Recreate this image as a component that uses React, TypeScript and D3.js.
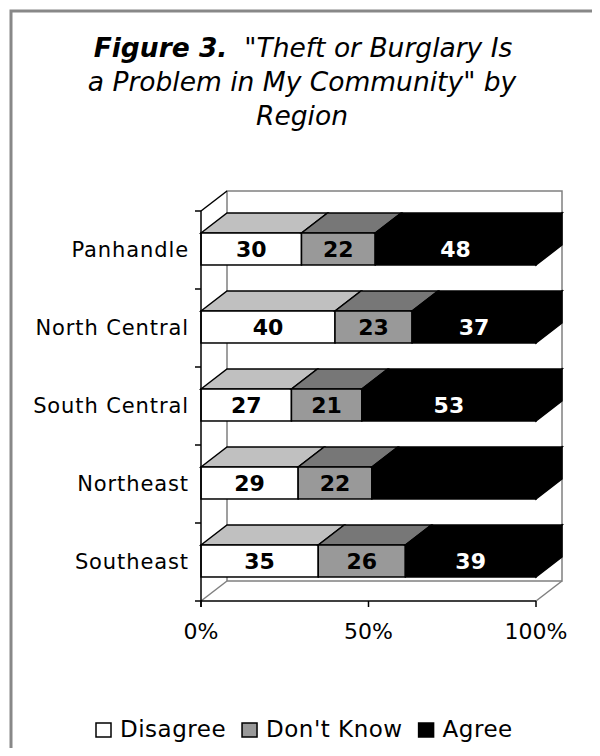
import * as d3 from "d3";
import React, { useEffect, useRef } from "react";

const categories = ["Panhandle", "North Central", "South Central", "Northeast", "Southeast"];
const seriesNames = ["Disagree", "Don't Know", "Agree"];
const disagree = [30, 40, 27, 29, 35];
const dontKnow = [22, 23, 21, 22, 26];
const agree = [48, 37, 53, 49, 39];
// the Northeast "Agree" label is not printed in the original
const showAgreeLabel = [true, true, true, false, true];
const xTicks = [0, 50, 100];

const frontColors = ["#ffffff", "#999999", "#000000"];
const topColors = ["#c0c0c0", "#777777", "#000000"];
const labelColors = ["#000000", "#000000", "#ffffff"];

const W = 600;
const H = 756;
const FONT = "'DejaVu Sans', Verdana, sans-serif";

const App: React.FC = () => {
  const ref = useRef<SVGSVGElement>(null);

  useEffect(() => {
    if (!ref.current) return;
    const svg = d3.select(ref.current);
    svg.selectAll("*").remove();

    const dx = 26;
    const dy = 20;
    const x = d3.scaleLinear().domain([0, 100]).range([201, 536]);
    const y = d3
      .scaleBand<string>()
      .domain(categories)
      .range([210, 600])
      .paddingInner(0.59)
      .paddingOuter(0.295);
    const x0 = x(0);
    const x1 = x(100);
    const yTop = 211;
    const yBot = 601;

    // frame
    svg
      .append("rect")
      .attr("x", 11)
      .attr("y", 11)
      .attr("width", 620)
      .attr("height", 780)
      .attr("fill", "#fff")
      .attr("stroke", "#888")
      .attr("stroke-width", 3);

    // title
    const title = svg
      .append("text")
      .attr("text-anchor", "middle")
      .attr("font-family", FONT)
      .attr("font-size", 26.5)
      .attr("font-style", "italic")
      .attr("fill", "#000");
    const l1 = title.append("tspan").attr("x", 303).attr("y", 57);
    l1.append("tspan").attr("font-weight", "bold").text("Figure 3.");
    l1.append("tspan").text('\u00a0 "Theft or Burglary Is');
    title.append("tspan").attr("x", 302).attr("y", 91).text('a Problem in My Community" by');
    title.append("tspan").attr("x", 302).attr("y", 125).text("Region");

    // walls
    const wall = svg.append("g").attr("fill", "none").attr("stroke", "#808080").attr("stroke-width", 1.5);
    wall
      .append("path")
      .attr("d", `M${x0 + dx},${yBot - dy}V${yTop - dy}H${x1 + dx}V${yBot - dy}H${x0 + dx}`);
    wall.append("path").attr("d", `M${x0},${yBot}L${x0 + dx},${yBot - dy}`);
    wall.append("path").attr("d", `M${x1},${yBot}L${x1 + dx},${yBot - dy}`);
    svg
      .append("path")
      .attr("d", `M${x0},${yTop}L${x0 + dx},${yTop - dy}`)
      .attr("stroke", "#000")
      .attr("stroke-width", 1.5)
      .attr("fill", "none");

    // bars
    const series = [disagree, dontKnow, agree];
    const bars = svg.append("g").attr("stroke", "#000").attr("stroke-width", 1.5);
    const labels = svg
      .append("g")
      .attr("font-family", FONT)
      .attr("font-size", 22)
      .attr("font-weight", "bold")
      .attr("text-anchor", "middle");
    const bh = y.bandwidth();
    categories.forEach((cat, ci) => {
      const by = y(cat)!;
      let acc = 0;
      series.forEach((vals, si) => {
        const v = vals[ci];
        const xa = x(acc);
        const xb = x(Math.min(acc + v, 100));
        acc += v;
        // top face
        bars
          .append("path")
          .attr("d", `M${xa},${by}L${xa + dx},${by - dy}L${xb + dx},${by - dy}L${xb},${by}Z`)
          .attr("fill", topColors[si]);
        // front face
        bars
          .append("rect")
          .attr("x", xa)
          .attr("y", by)
          .attr("width", xb - xa)
          .attr("height", bh)
          .attr("fill", frontColors[si]);
        if (si === series.length - 1) {
          bars
            .append("path")
            .attr("d", `M${xb},${by}L${xb + dx},${by - dy}L${xb + dx},${by + bh - dy}L${xb},${by + bh}Z`)
            .attr("fill", frontColors[si]);
        }
        if (si < 2 || showAgreeLabel[ci]) {
          labels
            .append("text")
            .attr("x", (xa + xb) / 2)
            .attr("y", by + bh / 2 + 8)
            .attr("fill", labelColors[si])
            .text(v);
        }
      });
    });

    // axes
    const ax = svg.append("g").attr("stroke", "#000").attr("stroke-width", 1.5);
    ax.append("line").attr("x1", x0).attr("x2", x0).attr("y1", yTop).attr("y2", yBot + 6);
    ax.append("line").attr("x1", x0).attr("x2", x1).attr("y1", yBot).attr("y2", yBot);
    d3.range(categories.length + 1).forEach((i) => {
      const ty = yTop + i * y.step();
      ax.append("line").attr("x1", x0 - 6).attr("x2", x0).attr("y1", ty).attr("y2", ty);
    });
    xTicks.forEach((t) => {
      ax.append("line").attr("x1", x(t)).attr("x2", x(t)).attr("y1", yBot).attr("y2", yBot + 6);
    });

    svg
      .append("g")
      .attr("font-family", FONT)
      .attr("font-size", 22)
      .attr("text-anchor", "middle")
      .selectAll("text")
      .data(xTicks)
      .enter()
      .append("text")
      .attr("x", (d) => x(d))
      .attr("y", 639)
      .text((d) => `${d}%`);

    svg
      .append("g")
      .attr("font-family", FONT)
      .attr("font-size", 21)
      .attr("text-anchor", "end")
      .attr("letter-spacing", 0.9)
      .selectAll("text")
      .data(categories)
      .enter()
      .append("text")
      .attr("x", 189)
      .attr("y", (d) => y(d)! + bh / 2 + 8)
      .text((d) => d);

    // legend
    const leg = svg
      .append("g")
      .attr("font-family", FONT)
      .attr("font-size", 23)
      .attr("letter-spacing", 0.5);
    let lx = 96;
    const ly = 737;
    seriesNames.forEach((name, i) => {
      leg
        .append("rect")
        .attr("x", lx)
        .attr("y", ly - 14)
        .attr("width", 15)
        .attr("height", 14)
        .attr("fill", frontColors[i])
        .attr("stroke", "#000")
        .attr("stroke-width", 1.5);
      const t = leg
        .append("text")
        .attr("x", lx + 24)
        .attr("y", ly)
        .text(name);
      const w = (t.node() as SVGTextElement).getComputedTextLength();
      lx += 24 + w + 16;
    });
  }, []);

  return <svg ref={ref} width={W} height={H} style={{ display: "block", margin: -8 }} />;
};

export default App;
